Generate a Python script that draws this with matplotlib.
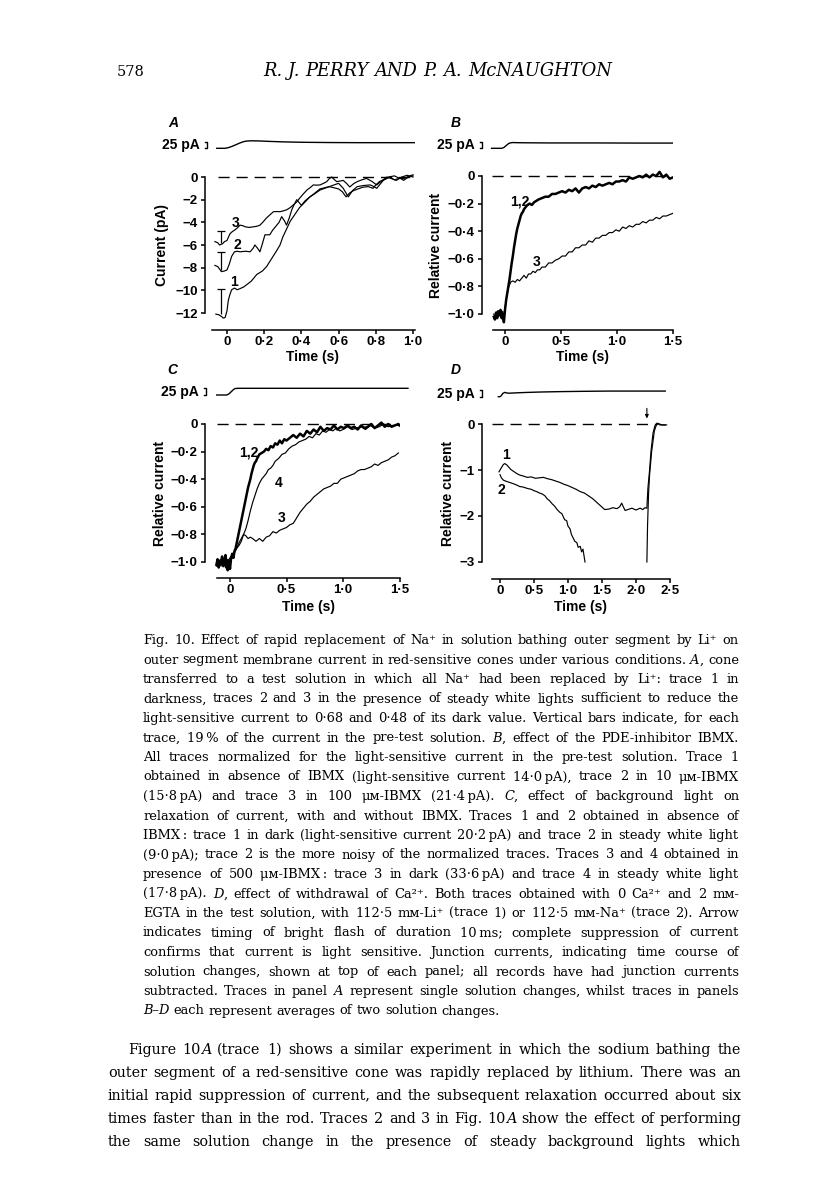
import re
import matplotlib
matplotlib.use("Agg")
import matplotlib.pyplot as plt
import numpy as np

# ---------------- data ----------------
# Panel A: current (pA) against time (s)
a1_t = [-0.06, -0.045, -0.03, -0.02, -0.01, 0.0, 0.007, 0.015, 0.025, 0.04,
        0.055, 0.07, 0.09, 0.106, 0.13, 0.16, 0.19, 0.213, 0.24, 0.267,
        0.285, 0.30, 0.32, 0.34, 0.365, 0.39, 0.42, 0.446, 0.47, 0.50,
        0.525, 0.55, 0.575, 0.60, 0.62, 0.64, 0.66, 0.68, 0.705, 0.73,
        0.76, 0.785, 0.80, 0.82, 0.85, 0.876, 0.90, 0.93, 0.95, 0.975, 1.0]
a1_v = [-12.1, -12.15, -12.3, -12.45, -12.4, -11.8, -10.9, -10.4, -9.95, -9.8,
        -9.95, -9.85, -9.7, -9.5, -9.2, -8.6, -8.3, -7.9, -7.2, -6.5,
        -6.0, -5.3, -4.6, -3.9, -3.3, -2.7, -2.2, -1.75, -1.45, -1.05,
        -0.95, -0.85, -0.95, -1.05, -1.3, -1.75, -1.4, -1.2, -1.05, -0.9,
        -0.85, -1.0, -0.7, -0.4, -0.2, 0.0, -0.25, -0.1, -0.3, 0.0, 0.1]
a2_t = [-0.065, -0.05, -0.03, -0.015, 0.0, 0.012, 0.025, 0.04, 0.055, 0.07,
        0.1, 0.124, 0.14, 0.15, 0.165, 0.177, 0.19, 0.204, 0.23, 0.245,
        0.26, 0.28, 0.294, 0.31, 0.32, 0.335, 0.348, 0.362, 0.375, 0.39,
        0.40, 0.42, 0.446, 0.47, 0.50, 0.525, 0.55, 0.575, 0.60, 0.625,
        0.652, 0.675, 0.70, 0.735, 0.77, 0.79, 0.805, 0.825, 0.84, 0.87,
        0.90, 0.925, 0.95, 0.975, 1.0]
a2_v = [-7.8, -7.9, -8.35, -8.3, -8.2, -7.7, -7.0, -6.6, -6.55, -6.6,
        -6.55, -6.6, -6.3, -6.0, -6.3, -6.6, -5.9, -5.1, -5.1, -4.7,
        -4.4, -4.0, -3.5, -3.9, -4.25, -3.6, -2.9, -2.4, -2.0, -2.3,
        -2.5, -2.1, -1.75, -1.5, -1.15, -1.0, -0.85, -0.7, -0.56, -1.0,
        -1.75, -1.2, -0.85, -0.75, -0.7, -0.85, -1.0, -0.6, -0.3, 0.0,
        0.1, -0.1, -0.15, 0.05, 0.2]
a3_t = [-0.065, -0.05, -0.04, -0.025, -0.013, 0.0, 0.016, 0.03, 0.04, 0.055,
        0.07, 0.085, 0.1, 0.12, 0.14, 0.16, 0.177, 0.195, 0.21, 0.23,
        0.25, 0.27, 0.285, 0.30, 0.32, 0.34, 0.356, 0.375, 0.39, 0.41,
        0.43, 0.45, 0.464, 0.48, 0.50, 0.52, 0.536, 0.55, 0.563, 0.575,
        0.59, 0.61, 0.625, 0.645, 0.66, 0.68, 0.70, 0.725, 0.75, 0.78,
        0.805, 0.835, 0.86, 0.885, 0.91, 0.94, 0.968, 1.0]
a3_v = [-5.7, -5.8, -6.0, -5.9, -5.7, -5.6, -5.0, -4.8, -4.7, -4.5,
        -4.25, -4.3, -4.4, -4.45, -4.4, -4.35, -4.25, -3.95, -3.65, -3.35,
        -3.06, -3.05, -3.06, -3.0, -2.9, -2.7, -2.47, -2.2, -1.88, -1.5,
        -1.15, -0.9, -0.7, -0.72, -0.7, -0.55, -0.41, -0.15, 0.0, -0.2,
        -0.41, -0.35, -0.3, -0.6, -0.88, -0.6, -0.41, -0.25, -0.12, -0.4,
        -0.7, -0.3, 0.0, -0.15, -0.3, 0.0, 0.15, 0.0]
# vertical bars in A (19 % of pre-test current)
bars_lo = [-12.1, -8.2, -5.8]
bars_hi = [-9.85, -6.65, -4.75]

# Panel B: relative current
b12_t = [-0.10, -0.09, -0.08, -0.07, -0.06, -0.05, -0.04, -0.03, -0.02, -0.01,
         0.00, 0.01, 0.02, 0.03, 0.04, 0.05, 0.06, 0.07, 0.08, 0.09,
         0.10, 0.11, 0.12, 0.13, 0.14, 0.15, 0.16, 0.17, 0.18, 0.19,
         0.20, 0.22, 0.24, 0.26, 0.28, 0.30, 0.33, 0.36, 0.39, 0.42,
         0.45, 0.48, 0.51, 0.54, 0.57, 0.60, 0.63, 0.66, 0.69, 0.72,
         0.75, 0.78, 0.81, 0.84, 0.87, 0.90, 0.93, 0.96, 0.99, 1.02,
         1.05, 1.08, 1.11, 1.14, 1.17, 1.20, 1.23, 1.26, 1.29, 1.32,
         1.35, 1.38, 1.41, 1.44, 1.47, 1.50]
b12_v = [-1.02, -1.04, -0.99, -1.03, -0.98, -1.01, -0.97, -1.03, -1.00, -1.06,
         -0.97, -0.90, -0.85, -0.80, -0.75, -0.69, -0.63, -0.58, -0.52, -0.47,
         -0.42, -0.38, -0.35, -0.32, -0.29, -0.27, -0.26, -0.24, -0.23, -0.22,
         -0.21, -0.20, -0.21, -0.19, -0.18, -0.17, -0.16, -0.15, -0.15, -0.13,
         -0.13, -0.12, -0.11, -0.12, -0.10, -0.11, -0.09, -0.12, -0.09, -0.08,
         -0.09, -0.07, -0.08, -0.06, -0.07, -0.06, -0.05, -0.06, -0.04, -0.04,
         -0.03, -0.04, -0.01, -0.02, -0.01, 0.00, -0.01, 0.01, -0.01, 0.01,
         0.00, 0.03, -0.01, 0.01, -0.02, -0.01]
b3_t = [-0.10, -0.09, -0.08, -0.07, -0.06, -0.05, -0.04, -0.03, -0.02, -0.01,
        0.00, 0.01, 0.02, 0.03, 0.04, 0.05, 0.07, 0.09, 0.11, 0.13,
        0.15, 0.17, 0.19, 0.21, 0.23, 0.25, 0.27, 0.29, 0.31, 0.33,
        0.36, 0.39, 0.42, 0.45, 0.48, 0.51, 0.54, 0.57, 0.60, 0.63,
        0.66, 0.69, 0.72, 0.75, 0.78, 0.81, 0.84, 0.87, 0.90, 0.93,
        0.96, 0.99, 1.02, 1.05, 1.08, 1.11, 1.14, 1.17, 1.20, 1.23,
        1.26, 1.29, 1.32, 1.35, 1.38, 1.41, 1.44, 1.47, 1.50]
b3_v = [-1.00, -1.02, -1.01, -0.98, -1.02, -0.99, -1.01, -1.00, -0.98, -1.03,
        -0.96, -0.90, -0.85, -0.81, -0.79, -0.77, -0.76, -0.77, -0.75, -0.76,
        -0.74, -0.72, -0.74, -0.71, -0.71, -0.69, -0.70, -0.68, -0.68, -0.66,
        -0.66, -0.63, -0.63, -0.61, -0.60, -0.58, -0.58, -0.55, -0.55, -0.52,
        -0.52, -0.50, -0.50, -0.47, -0.48, -0.45, -0.45, -0.43, -0.43, -0.41,
        -0.41, -0.39, -0.40, -0.37, -0.38, -0.36, -0.37, -0.35, -0.35, -0.33,
        -0.34, -0.32, -0.32, -0.30, -0.31, -0.29, -0.29, -0.28, -0.27]

# Panel C: relative current
c12_t = [-0.12, -0.11, -0.10, -0.09, -0.08, -0.07, -0.06, -0.05, -0.04, -0.03,
         -0.02, -0.01, 0.00, 0.01, 0.02, 0.03, 0.04, 0.05, 0.06, 0.07,
         0.08, 0.09, 0.10, 0.11, 0.12, 0.13, 0.14, 0.15, 0.16, 0.17,
         0.18, 0.19, 0.20, 0.21, 0.22, 0.23, 0.24, 0.26, 0.28, 0.30,
         0.32, 0.34, 0.36, 0.38, 0.40, 0.42, 0.44, 0.46, 0.48, 0.50,
         0.53, 0.56, 0.59, 0.62, 0.65, 0.68, 0.71, 0.74, 0.77, 0.80,
         0.83, 0.86, 0.89, 0.92, 0.95, 0.98, 1.01, 1.04, 1.07, 1.10,
         1.13, 1.16, 1.19, 1.22, 1.25, 1.28, 1.31, 1.34, 1.37, 1.40,
         1.43, 1.46, 1.49, 1.50]
c12_v = [-1.02, -0.98, -1.04, -0.99, -1.01, -0.96, -1.03, -1.00, -0.95, -1.04,
         -1.06, -0.99, -1.05, -0.97, -0.94, -0.97, -0.92, -0.90, -0.86, -0.82,
         -0.78, -0.74, -0.70, -0.66, -0.62, -0.58, -0.54, -0.50, -0.46, -0.43,
         -0.40, -0.36, -0.33, -0.30, -0.28, -0.27, -0.25, -0.22, -0.21, -0.20,
         -0.18, -0.19, -0.16, -0.17, -0.14, -0.15, -0.12, -0.14, -0.11, -0.12,
         -0.10, -0.08, -0.10, -0.07, -0.09, -0.05, -0.07, -0.04, -0.06, -0.02,
         -0.05, -0.03, -0.04, -0.01, -0.04, -0.02, -0.03, -0.01, -0.03, -0.02,
         -0.04, -0.01, -0.03, -0.02, 0.00, -0.03, -0.01, 0.01, -0.02, 0.00,
         -0.02, -0.01, 0.00, -0.01]
c4_t = [-0.12, -0.10, -0.08, -0.06, -0.04, -0.02, 0.00, 0.02, 0.04, 0.06,
        0.08, 0.10, 0.12, 0.14, 0.16, 0.18, 0.20, 0.22, 0.24, 0.26,
        0.28, 0.30, 0.32, 0.34, 0.36, 0.38, 0.40, 0.43, 0.46, 0.49,
        0.52, 0.55, 0.58, 0.61, 0.64, 0.67, 0.70, 0.73, 0.76, 0.79,
        0.82, 0.85, 0.88, 0.91, 0.94, 0.97, 1.00, 1.04, 1.08, 1.12,
        1.16, 1.20, 1.24, 1.28, 1.32, 1.36, 1.40, 1.44, 1.48, 1.50]
c4_v = [-1.01, -0.99, -1.03, -0.98, -1.02, -1.00, -0.97, -0.95, -0.93, -0.90,
        -0.88, -0.85, -0.80, -0.76, -0.70, -0.63, -0.57, -0.52, -0.47, -0.43,
        -0.40, -0.38, -0.36, -0.33, -0.32, -0.30, -0.27, -0.25, -0.22, -0.21,
        -0.18, -0.16, -0.15, -0.13, -0.12, -0.11, -0.09, -0.10, -0.07, -0.08,
        -0.05, -0.06, -0.04, -0.05, -0.03, -0.05, -0.04, -0.02, -0.04, -0.03,
        -0.02, -0.04, -0.01, -0.03, -0.02, 0.00, -0.02, -0.01, -0.01, -0.01]
c3_t = [-0.12, -0.10, -0.08, -0.06, -0.04, -0.02, 0.00, 0.02, 0.04, 0.06,
        0.08, 0.10, 0.12, 0.14, 0.16, 0.18, 0.20, 0.23, 0.26, 0.29,
        0.32, 0.35, 0.38, 0.41, 0.44, 0.47, 0.50, 0.53, 0.56, 0.59,
        0.62, 0.65, 0.68, 0.71, 0.74, 0.77, 0.80, 0.83, 0.86, 0.89,
        0.92, 0.95, 0.98, 1.01, 1.04, 1.07, 1.10, 1.13, 1.16, 1.19,
        1.22, 1.25, 1.28, 1.31, 1.34, 1.37, 1.40, 1.43, 1.46, 1.49]
c3_v = [-1.03, -1.00, -1.02, -0.99, -1.04, -0.98, -1.00, -0.95, -0.93, -0.90,
        -0.86, -0.83, -0.80, -0.81, -0.83, -0.82, -0.83, -0.85, -0.83, -0.85,
        -0.82, -0.81, -0.78, -0.79, -0.77, -0.76, -0.75, -0.73, -0.72, -0.68,
        -0.64, -0.61, -0.58, -0.56, -0.53, -0.51, -0.49, -0.47, -0.46, -0.45,
        -0.43, -0.43, -0.40, -0.39, -0.38, -0.37, -0.36, -0.34, -0.33, -0.33,
        -0.32, -0.31, -0.29, -0.30, -0.28, -0.27, -0.26, -0.24, -0.23, -0.21]

# Panel D: relative current (trace 2 goes off scale between 1.25 and 2.16 s)
d1_t = [-0.015, 0.02, 0.05, 0.07, 0.10, 0.13, 0.16, 0.20, 0.25, 0.29,
        0.34, 0.40, 0.46, 0.52, 0.58, 0.64, 0.70, 0.76, 0.82, 0.88,
        0.94, 1.00, 1.06, 1.12, 1.18, 1.24, 1.30, 1.36, 1.42, 1.48,
        1.54, 1.60, 1.66, 1.72, 1.76, 1.79, 1.81, 1.84, 1.88, 1.94,
        2.00, 2.06, 2.10, 2.13, 2.16, 2.175, 2.20, 2.22, 2.25, 2.28,
        2.31, 2.35, 2.40, 2.45]
d1_v = [-1.04, -0.95, -0.88, -0.86, -0.89, -0.94, -0.99, -1.03, -1.08, -1.11,
        -1.13, -1.16, -1.15, -1.18, -1.17, -1.16, -1.19, -1.21, -1.24, -1.27,
        -1.31, -1.34, -1.38, -1.42, -1.47, -1.50, -1.56, -1.62, -1.70, -1.78,
        -1.86, -1.85, -1.82, -1.84, -1.80, -1.72, -1.79, -1.88, -1.86, -1.83,
        -1.87, -1.83, -1.86, -1.82, -1.83, -1.40, -1.00, -0.60, -0.20, -0.03,
        0.02, -0.02, -0.02, -0.02]
d2_t = [0.00, 0.02, 0.05, 0.08, 0.12, 0.16, 0.20, 0.25, 0.29, 0.34,
        0.40, 0.46, 0.50, 0.54, 0.58, 0.62, 0.66, 0.69, 0.73, 0.77,
        0.80, 0.84, 0.88, 0.91, 0.95, 0.98, 1.00, 1.03, 1.05, 1.08,
        1.10, 1.13, 1.15, 1.18, 1.20, 1.22, 1.25, 1.70, 2.16, 2.17,
        2.185, 2.20, 2.23, 2.27, 2.30, 2.33, 2.38, 2.43]
d2_v = [-1.10, -1.17, -1.22, -1.24, -1.26, -1.28, -1.30, -1.33, -1.36, -1.37,
        -1.40, -1.42, -1.45, -1.47, -1.50, -1.52, -1.56, -1.62, -1.67, -1.74,
        -1.78, -1.86, -1.92, -1.95, -2.08, -2.10, -2.22, -2.28, -2.40, -2.49,
        -2.55, -2.58, -2.68, -2.66, -2.78, -2.72, -3.00, np.nan, -3.00, -2.20,
        -1.50, -1.10, -0.60, -0.15, -0.02, 0.01, -0.02, -0.02]
flash_t = 2.16

# junction currents (pA) shown above each panel
jA_t = [-0.055, -0.03, -0.01, 0.01, 0.03, 0.05, 0.07, 0.09, 0.106, 0.13,
        0.17, 0.22, 0.3, 0.4, 0.55, 0.7, 0.85, 1.01]
jA_v = [0, 0, 0, 3, 8, 14, 20, 25, 27, 28, 27.5, 26, 24, 22.5, 21.5, 21, 21, 21]
jB_t = [-0.12, -0.05, -0.03, -0.01, 0.01, 0.03, 0.045, 0.07, 0.1, 0.2, 0.4, 0.8, 1.2, 1.5]
jB_v = [0, 0, 0, 3, 10, 17, 20, 21.5, 21, 20.5, 20, 20, 19.5, 19.5]
jC_t = [-0.118, -0.05, -0.03, -0.01, 0.01, 0.03, 0.044, 0.07, 0.1, 0.3, 0.8, 1.2, 1.575]
jC_v = [0, 0, 0, 4, 12, 20, 24, 25, 25, 25, 25, 25, 25]
jD_t = [-0.025, 0.0, 0.02, 0.04, 0.07, 0.1, 0.13, 0.17, 0.25, 0.4, 0.6, 0.9, 1.2, 1.6, 2.0, 2.43]
jD_v = [0, 0, 4, 12, 16, 14, 13, 13.5, 14.5, 16, 17.5, 19, 20, 21, 21, 21]

# ticks
a_xt = [0, 0.2, 0.4, 0.6, 0.8, 1.0]
a_xl = ["0", "0·2", "0·4", "0·6", "0·8", "1·0"]
a_yt = [0, -2, -4, -6, -8, -10, -12]
a_yl = ["0", "−2", "−4", "−6", "−8", "−10", "−12"]
bc_xt = [0, 0.5, 1.0, 1.5]
bc_xl = ["0", "0·5", "1·0", "1·5"]
bc_yt = [0, -0.2, -0.4, -0.6, -0.8, -1.0]
bc_yl = ["0", "−0·2", "−0·4", "−0·6", "−0·8", "−1·0"]
d_xt = [0, 0.5, 1.0, 1.5, 2.0, 2.5]
d_xl = ["0", "0·5", "1·0", "1·5", "2·0", "2·5"]
d_yt = [0, -1, -2, -3]
d_yl = ["0", "−1", "−2", "−3"]

header_num = "578"
header_title = "R. J. PERRY AND P. A. McNAUGHTON"

caption_lines = [
    "Fig. 10. Effect of rapid replacement of Na⁺ in solution bathing outer segment by Li⁺ on",
    "outer segment membrane current in red-sensitive cones under various conditions. *A*, cone",
    "transferred to a test solution in which all Na⁺ had been replaced by Li⁺: trace 1 in",
    "darkness, traces 2 and 3 in the presence of steady white lights sufficient to reduce the",
    "light-sensitive current to 0·68 and 0·48 of its dark value. Vertical bars indicate, for each",
    "trace, 19\u2009% of the current in the pre-test solution. *B*, effect of the PDE-inhibitor IBMX.",
    "All traces normalized for the light-sensitive current in the pre-test solution. Trace 1",
    "obtained in absence of IBMX (light-sensitive current 14·0\u2009pA), trace 2 in 10 μᴍ-IBMX",
    "(15·8\u2009pA) and trace 3 in 100 μᴍ-IBMX (21·4\u2009pA). *C*, effect of background light on",
    "relaxation of current, with and without IBMX. Traces 1 and 2 obtained in absence of",
    "IBMX\u2009: trace 1 in dark (light-sensitive current 20·2\u2009pA) and trace 2 in steady white light",
    "(9·0\u2009pA); trace 2 is the more noisy of the normalized traces. Traces 3 and 4 obtained in",
    "presence of 500 μᴍ-IBMX\u2009: trace 3 in dark (33·6\u2009pA) and trace 4 in steady white light",
    "(17·8\u2009pA). *D*, effect of withdrawal of Ca²⁺. Both traces obtained with 0 Ca²⁺ and 2 mᴍ-",
    "EGTA in the test solution, with 112·5 mᴍ-Li⁺ (trace 1) or 112·5 mᴍ-Na⁺ (trace 2). Arrow",
    "indicates timing of bright flash of duration 10\u2009ms; complete suppression of current",
    "confirms that current is light sensitive. Junction currents, indicating time course of",
    "solution changes, shown at top of each panel; all records have had junction currents",
    "subtracted. Traces in panel *A* represent single solution changes, whilst traces in panels",
    "*B–D* each represent averages of two solution changes.",
]
body_lines = [
    "Figure 10*A* (trace 1) shows a similar experiment in which the sodium bathing the",
    "outer segment of a red-sensitive cone was rapidly replaced by lithium. There was an",
    "initial rapid suppression of current, and the subsequent relaxation occurred about six",
    "times faster than in the rod. Traces 2 and 3 in Fig. 10*A* show the effect of performing",
    "the same solution change in the presence of steady background lights which",
]

# ---------------- figure ----------------
W, H = 816, 1181
plt.rcParams["font.family"] = ["Liberation Sans", "DejaVu Sans"]
plt.rcParams["axes.linewidth"] = 1.1
SERIF = ["DejaVu Serif", "DejaVu Sans"]
PA = 0.268          # pixels per pA in the junction traces
DASH = (0, (8, 5))
FS = 10             # figure lettering size
TICK_FS = 9.5

fig = plt.figure(figsize=(W / 100, H / 100), dpi=100)
fig.patch.set_facecolor("white")
renderer = fig.canvas.get_renderer()


def fx(x):
    return x / W


def fy(y):
    return 1 - y / H


def panel(box, calib, base_y, xb, yb, xt, xl, yt, yl):
    """main axes + junction-current axes; box and calib in page pixels"""
    l, t, r, b = box
    x0, sx, y0, sy = calib
    ax = fig.add_axes([fx(l), fy(b), (r - l) / W, (b - t) / H])
    ax.set_xlim((l - x0) / sx, (r - x0) / sx)
    ax.set_ylim(-(b - y0) / sy, (y0 - t) / sy)
    ax.patch.set_visible(False)
    ax.spines[["top", "right"]].set_visible(False)
    ax.spines["left"].set_bounds(*yb)
    ax.spines["bottom"].set_bounds(*xb)
    ax.set_xticks(xt, xl, fontweight="bold", fontsize=TICK_FS)
    ax.set_yticks(yt, yl, fontweight="bold", fontsize=TICK_FS)
    ax.tick_params(length=2.8, width=1.1)
    ax.tick_params(axis="x", pad=1.5)
    ax.tick_params(axis="y", pad=2.5)

    jt, jb = base_y - 80 * PA, base_y + 40 * PA
    jax = fig.add_axes([fx(l), fy(jb), (r - l) / W, (jb - jt) / H])
    jax.set_xlim(ax.get_xlim())
    jax.set_ylim(-40, 80)
    jax.axis("off")
    return ax, jax


def scale_bar(jax, calib, xpx):
    x0, sx = calib[0], calib[1]
    tb = (xpx - x0) / sx
    d = 2.5 / sx
    jax.plot([tb - d, tb, tb, tb - d], [0, 0, 25, 25], color="k", lw=1.0,
             clip_on=False)
    jax.text(tb - 7 / sx, 11, "25 pA", ha="right", va="center",
             fontweight="bold", fontsize=FS)


def fig_label(x, y, s, **kw):
    fig.text(fx(x), fy(y), s, ha="center", va="center", fontweight="bold",
             fontsize=FS, **kw)


def parts(word):
    out = []
    for p in re.split(r"(\*[^*]+\*)", word):
        if p:
            out.append((p.strip("*"), "italic" if p.startswith("*") else "normal"))
    return out


def word_width(word, size, style=None):
    w = 0.0
    for s, st in parts(word):
        tx = fig.text(0, 0, s, fontsize=size, fontstyle=style or st, family=SERIF)
        w += tx.get_window_extent(renderer).width
        tx.remove()
    return w


def fit_size(lines, widths, size0, style=None):
    """largest size at which every line fits with ordinary word spaces"""
    ratios = []
    for line, width in zip(lines, widths):
        words = line.split(" ")
        nat = sum(word_width(w, size0, style) for w in words)
        nat += size0 * 100 / 72 * 0.32 * (len(words) - 1)
        ratios.append(width / nat)
    return size0 * min(ratios)


def text_line(line, x0, x1, y, size, justify=True, style=None):
    words = []
    for w in line.split(" "):
        pieces, off = [], 0.0
        for s, st in parts(w):
            tx = fig.text(0, fy(y), s, fontsize=size, fontstyle=style or st,
                          family=SERIF, va="baseline", ha="left", color="black")
            pieces.append((tx, off))
            off += tx.get_window_extent(renderer).width
        words.append((pieces, off))
    total = sum(wd for _, wd in words)
    space = size * 100 / 72 * 0.32
    if justify and len(words) > 1:
        gap = (x1 - x0 - total) / (len(words) - 1)
    else:
        gap = space
    x = x0
    for pieces, wd in words:
        for tx, off in pieces:
            tx.set_x(fx(x + off))
        x += wd + gap


# ---- panel A ----
calA = (227, 186, 177, 136 / 12)
axA, jA = panel((205, 160, 415, 330), calA, 148.3, (-0.08, 1.01), (-12, 0),
                a_xt, a_xl, a_yt, a_yl)
axA.plot([-0.05, 1.0], [0, 0], color="k", lw=1.0, ls=DASH)
for tt, vv in [(a1_t, a1_v), (a2_t, a2_v), (a3_t, a3_v)]:
    axA.plot(tt, vv, color="k", lw=0.85)
axA.vlines([-0.032] * 3, bars_lo, bars_hi, color="k", lw=0.9)
axA.hlines(bars_hi, -0.052, -0.012, color="k", lw=0.9)
for s, (tx, vy) in zip(["1", "2", "3"], [(0.04, -9.25), (0.055, -6.0), (0.048, -4.05)]):
    axA.text(tx, vy, s, ha="center", va="center", fontweight="bold", fontsize=FS)
jA.plot(jA_t, jA_v, color="k", lw=1.0)
scale_bar(jA, calA, 207)
fig_label(173, 123, "A", fontstyle="italic")
fig.text(fx(162), fy(245), "Current (pA)", rotation=90, ha="center", va="center",
         fontweight="bold", fontsize=FS)
fig_label(313, 357, "Time (s)")

# ---- panel B ----
calB = (505, 112, 176, 138)
axB, jB = panel((482, 160, 673, 330), calB, 148.3, (-0.107, 1.5), (-1.0, 0),
                bc_xt, bc_xl, bc_yt, bc_yl)
axB.plot([-0.12, 1.5], [0, 0], color="k", lw=1.0, ls=DASH)
axB.plot(b3_t, b3_v, color="k", lw=0.85)
axB.plot(b12_t, b12_v, color="k", lw=1.8)
axB.text(0.134, -0.186, "1,2", ha="center", va="center", fontweight="bold", fontsize=FS)
axB.text(0.28, -0.62, "3", ha="center", va="center", fontweight="bold", fontsize=FS)
jB.plot(jB_t, jB_v, color="k", lw=1.0)
scale_bar(jB, calB, 482)
fig_label(456, 123, "B", fontstyle="italic")
fig.text(fx(436), fy(245), "Relative current", rotation=90, ha="center",
         va="center", fontweight="bold", fontsize=FS)
fig_label(583, 357, "Time (s)")

# ---- panel C ----
calC = (230, 113, 424, 138)
axC, jC = panel((205, 408, 400, 578), calC, 395, (-0.115, 1.5), (-1.0, 0),
                bc_xt, bc_xl, bc_yt, bc_yl)
axC.plot([-0.118, 1.49], [0, 0], color="k", lw=1.0, ls=DASH)
axC.plot(c3_t, c3_v, color="k", lw=0.85)
axC.plot(c4_t, c4_v, color="k", lw=0.85)
axC.plot(c12_t, c12_v, color="k", lw=1.8)
for s, (tx, vy) in zip(["1,2", "4", "3"], [(0.162, -0.21), (0.43, -0.43), (0.457, -0.68)]):
    axC.text(tx, vy, s, ha="center", va="center", fontweight="bold", fontsize=FS)
jC.plot(jC_t, jC_v, color="k", lw=1.0, clip_on=False)
scale_bar(jC, calC, 206)
fig_label(172, 370, "C", fontstyle="italic")
fig.text(fx(160), fy(493), "Relative current", rotation=90, ha="center",
         va="center", fontweight="bold", fontsize=FS)
fig_label(308, 607, "Time (s)")

# ---- panel D ----
calD = (500, 68, 424, 46)
axD, jD = panel((482, 400, 670, 579), calD, 396.7, (-0.118, 2.5), (-3, 0),
                d_xt, d_xl, d_yt, d_yl)
axD.plot([-0.12, 2.31], [0, 0], color="k", lw=1.0, ls=DASH)
axD.plot(d1_t, d1_v, color="k", lw=0.85)
axD.plot(d2_t, d2_v, color="k", lw=0.85)
axD.annotate("", xy=(flash_t, 0.12), xytext=(flash_t, 0.34),
             arrowprops=dict(arrowstyle="-|>", color="k", lw=0.8,
                             mutation_scale=5, shrinkA=0, shrinkB=0))
axD.text(0.084, -0.67, "1", ha="center", va="center", fontweight="bold", fontsize=FS)
axD.text(0.025, -1.43, "2", ha="center", va="center", fontweight="bold", fontsize=FS)
jD.plot(jD_t, jD_v, color="k", lw=1.0)
scale_bar(jD, calD, 482)
fig_label(456, 370, "D", fontstyle="italic")
fig.text(fx(448), fy(493), "Relative current", rotation=90, ha="center",
         va="center", fontweight="bold", fontsize=FS)
fig_label(581, 607, "Time (s)")

# ---- page text ----
fig.text(fx(117), fy(76), header_num, family=SERIF, fontsize=10.5,
         va="baseline", ha="left", color="black")
title_size = fit_size([header_title], [612 - 263], 10, style="italic")
text_line(header_title, 263, 612, 76, title_size, style="italic")

cap_size = fit_size(caption_lines[:-1], [739 - 143] * (len(caption_lines) - 1), 9)
for i, line in enumerate(caption_lines):
    text_line(line, 143, 739, 644 + 19.5 * i, cap_size,
              justify=(i < len(caption_lines) - 1))

body_widths = [741 - 128] + [741 - 108] * (len(body_lines) - 1)
body_size = fit_size(body_lines, body_widths, 10)
for i, line in enumerate(body_lines):
    x0 = 128 if i == 0 else 108
    text_line(line, x0, 741, 1054 + 23 * i, body_size)

fig.savefig("out.png", dpi=100, facecolor="white")
